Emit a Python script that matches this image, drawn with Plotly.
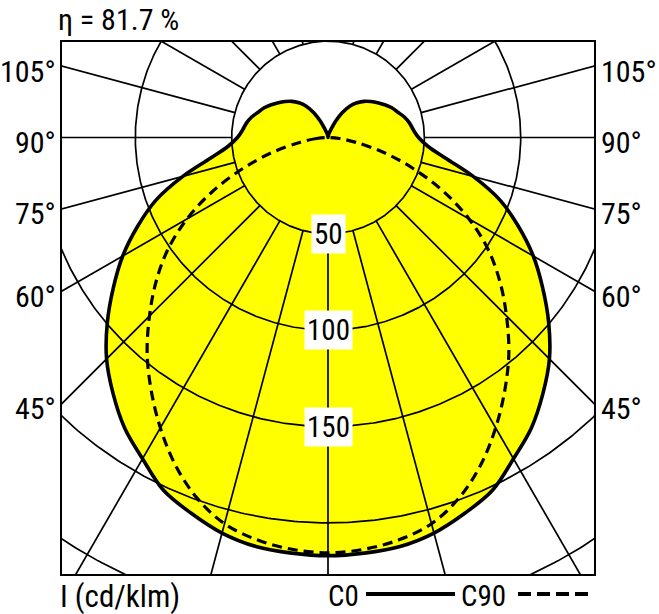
import numpy as np
import plotly.graph_objects as go

# luminous intensity (cd/klm) against gamma angle from nadir, 5 degree steps
gamma_c0 = list(range(0, 181, 5))
c0 = [217, 216.5, 215.5, 212.5, 207.5, 202, 192.5, 184, 173.5, 162.5,
      149.5, 136, 123, 109, 95, 78, 62, 52, 47, 44.5,
      43, 41, 38.5, 36.5, 34, 31.5, 29, 26.5, 23.5, 20,
      15, 9.5, 4.5, 2.5, 1.2, 0.5, 0]
gamma_c90 = list(range(0, 91, 5))
c90 = [215.5, 214.5, 212, 207.5, 199, 187.5, 174, 160, 146, 131,
       116.5, 101.5, 84.5, 66, 47, 30, 15, 6, 0]

ring_values = [50, 100, 150, 200, 250]
ring_labels = [50, 100, 150]
spoke_angles = list(range(0, 181, 15))
side_angles = [45, 60, 75, 90, 105]
efficiency = "η = 81.7 %"
unit_text = "I (cd/klm)"

FONT = "Liberation Sans Narrow, Arial Narrow, Roboto Condensed, DejaVu Sans Condensed, sans-serif"
YELLOW = "#ffff00"

# page geometry (pixels)
W, H = 659, 614
L, T, R, B = 62, 42, 594, 574
OX, OY = 328, 137.5       # lamp position
S = 1.927                 # px per cd/klm

x_rng = [(L - OX) / S, (R - OX) / S]
y_rng = [-(B - OY) / S, (OY - T) / S]


def px(xp):
    return (xp - L) / (R - L)


def py(yp):
    return (B - yp) / (B - T)


def polar_xy(gam, r, side=1):
    g = np.radians(np.asarray(gam, dtype=float))
    r = np.asarray(r, dtype=float)
    return side * r * np.sin(g), -r * np.cos(g)


fig = go.Figure()

# yellow area of the C0/C180 curve
xr, yr = polar_xy(gamma_c0, c0, 1)
xl, yl = polar_xy(gamma_c0[::-1], c0[::-1], -1)
x_c0 = np.concatenate([xr, xl[1:]])
y_c0 = np.concatenate([yr, yl[1:]])
fig.add_trace(go.Scatter(x=x_c0, y=y_c0, mode="lines", fill="toself",
                         fillcolor=YELLOW, line=dict(width=0, shape="spline"),
                         hoverinfo="skip", showlegend=False))

# grid rings
t = np.linspace(0, 2 * np.pi, 721)
for rv in ring_values:
    fig.add_trace(go.Scatter(x=rv * np.cos(t), y=rv * np.sin(t), mode="lines",
                             line=dict(color="black", width=1.7),
                             hoverinfo="skip", showlegend=False))

# spokes, starting at the 50 ring
for a in spoke_angles:
    for side in ([1] if a in (0, 180) else [1, -1]):
        sx, sy = polar_xy([a, a], [50, 400], side)
        fig.add_trace(go.Scatter(x=sx, y=sy, mode="lines",
                                 line=dict(color="black", width=1.7),
                                 hoverinfo="skip", showlegend=False))

# C0 curve
fig.add_trace(go.Scatter(x=x_c0, y=y_c0, mode="lines",
                         line=dict(color="black", width=3.6, shape="spline"),
                         hoverinfo="skip", showlegend=False))

# C90 curve
xr9, yr9 = polar_xy(gamma_c90, c90, 1)
xl9, yl9 = polar_xy(gamma_c90[::-1], c90[::-1], -1)
fig.add_trace(go.Scatter(x=np.concatenate([xl9, xr9[1:]]),
                         y=np.concatenate([yl9, yr9[1:]]), mode="lines",
                         line=dict(color="black", width=3.2, dash="10px,6px",
                                   shape="spline"),
                         hoverinfo="skip", showlegend=False))

ann = []
# ring labels
for rv in ring_labels:
    ann.append(dict(x=0, y=-rv, xref="x", yref="y", text=str(rv), showarrow=False,
                    font=dict(family=FONT, size=29, color="black"),
                    bgcolor="white", borderpad=2, xanchor="center", yanchor="middle"))

# angle labels on both sides
for a in side_angles:
    ya = -x_rng[1] * np.cos(np.radians(a)) / np.sin(np.radians(a))
    for xa, anchor in ((px(58), "right"), (px(599), "left")):
        ann.append(dict(x=xa, y=ya, xref="paper", yref="y", text=f"{a}°",
                        showarrow=False, yshift=-5,
                        font=dict(family=FONT, size=30, color="black"),
                        xanchor=anchor, yanchor="middle"))

ann.append(dict(x=px(56), y=py(0), xref="paper", yref="paper", text=efficiency,
                showarrow=False, font=dict(family=FONT, size=30, color="black"),
                xanchor="left", yanchor="top"))
ann.append(dict(x=px(58), y=py(596), xref="paper", yref="paper", text=unit_text,
                showarrow=False, font=dict(family=FONT, size=31, color="black"),
                xanchor="left", yanchor="middle"))
ann.append(dict(x=px(326), y=py(596), xref="paper", yref="paper", text="C0",
                showarrow=False, font=dict(family=FONT, size=29, color="black"),
                xanchor="left", yanchor="middle"))
ann.append(dict(x=px(459), y=py(596), xref="paper", yref="paper", text="C90",
                showarrow=False, font=dict(family=FONT, size=29, color="black"),
                xanchor="left", yanchor="middle"))

shapes = [
    dict(type="line", xref="paper", yref="paper", x0=px(366), x1=px(455),
         y0=py(594), y1=py(594), line=dict(color="black", width=4)),
    dict(type="line", xref="paper", yref="paper", x0=px(518), x1=px(590),
         y0=py(594), y1=py(594), line=dict(color="black", width=4, dash="13px,6px")),
]

axis = dict(showgrid=False, zeroline=False, showticklabels=False, ticks="",
            showline=True, mirror=True, linecolor="black", linewidth=2)
fig.update_layout(
    width=W, height=H,
    margin=dict(l=L, r=W - R, t=T, b=H - B),
    plot_bgcolor="white", paper_bgcolor="white",
    xaxis=dict(range=x_rng, **axis),
    yaxis=dict(range=y_rng, **axis),
    annotations=ann, shapes=shapes,
)

# the page body has a default 8px margin; drop it so the figure sits at 0,0
fig.write_html("out.html", config={"displayModeBar": False},
               post_script="document.body.style.margin='0';")
